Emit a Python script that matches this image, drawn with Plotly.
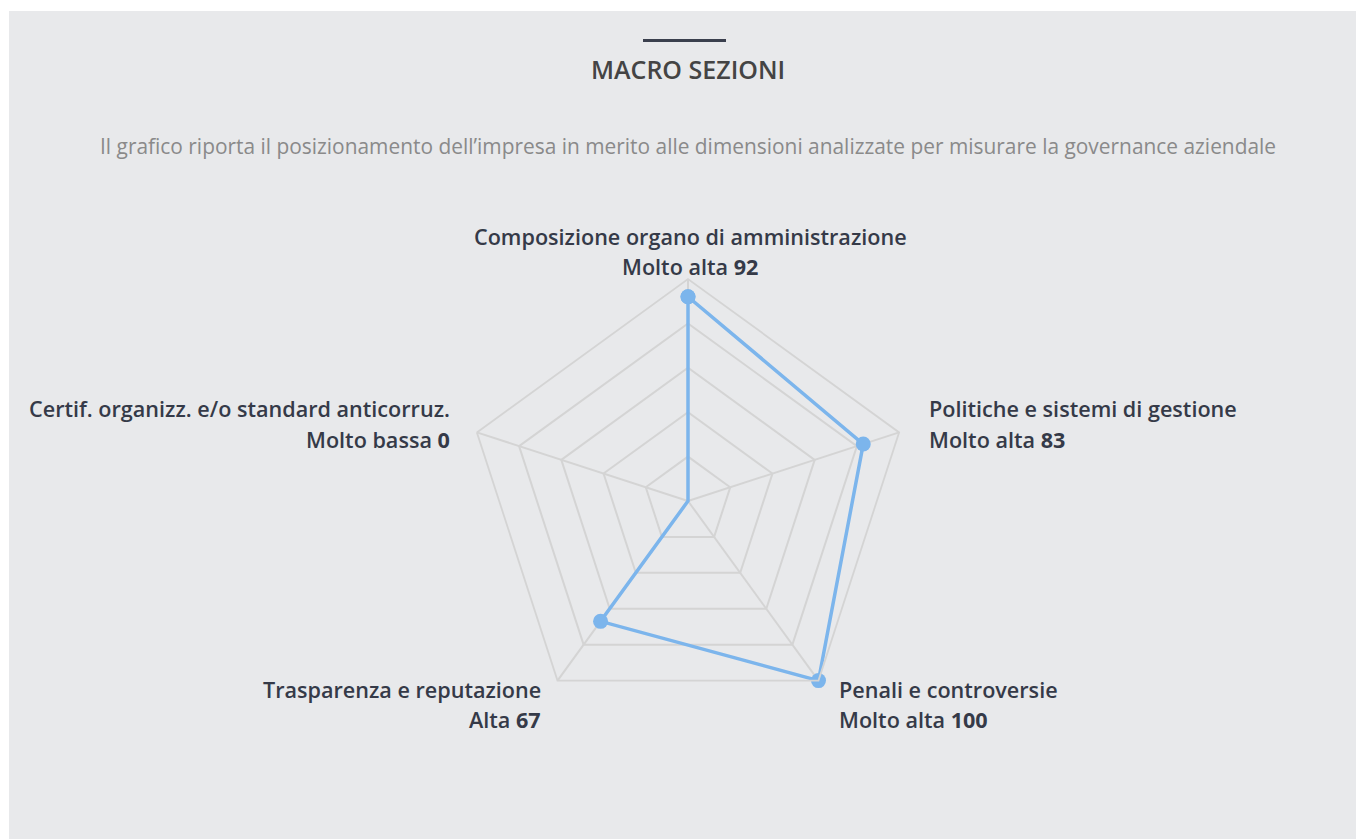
import plotly.graph_objects as go

categories = [
    "Composizione organo di amministrazione",
    "Politiche e sistemi di gestione",
    "Penali e controversie",
    "Trasparenza e reputazione",
    "Certif. organizz. e/o standard anticorruz.",
]
levels = ["Molto alta", "Molto alta", "Molto alta", "Alta", "Molto bassa"]
values = [92, 83, 100, 67, 0]
grid_ticks = [20, 40, 60, 80, 100]

W, H = 1356, 839
CX, CY, R = 688, 501, 222  # polar centre / radius in pixels

def px(x):
    return x / W

def py(y):
    return 1 - y / H

fig = go.Figure()
fig.add_trace(go.Scatterpolar(
    r=values + [values[0]],
    theta=categories + [categories[0]],
    mode="lines+markers",
    line=dict(color="#7cb5ec", width=3.5),
    marker=dict(color="#7cb5ec", size=15),
    hoverinfo="skip",
    showlegend=False,
))

grid_col = "#d4d4d4"
fig.update_layout(
    width=W, height=H,
    margin=dict(l=0, r=0, t=0, b=0),
    paper_bgcolor="white",
    plot_bgcolor="rgba(0,0,0,0)",
    polar=dict(
        domain=dict(x=[px(CX - R), px(CX + R)], y=[py(CY + R), py(CY - R)]),
        bgcolor="rgba(0,0,0,0)",
        gridshape="linear",
        radialaxis=dict(range=[0, 100], tickvals=grid_ticks, showticklabels=False,
                        showline=False, ticks="", gridcolor=grid_col, gridwidth=1.8),
        angularaxis=dict(rotation=90, direction="clockwise", showticklabels=False,
                         ticks="", gridcolor=grid_col, gridwidth=1.8,
                         linecolor=grid_col, linewidth=1.8),
    ),
    shapes=[
        dict(type="rect", xref="paper", yref="paper", x0=px(9), x1=px(W + 20),
             y0=py(H + 20), y1=py(11), fillcolor="#e8e9eb", line=dict(width=0), layer="below"),
        dict(type="line", xref="paper", yref="paper", x0=px(643), x1=px(726),
             y0=py(40.5), y1=py(40.5), line=dict(color="#3a3f4d", width=3)),
    ],
)

ann = []
ann.append(dict(text="MACRO SEZIONI", x=px(688), y=py(69), xanchor="center", yanchor="middle",
                font=dict(family="Open Sans", size=25, color="#444444", weight=600)))
ann.append(dict(text="Il grafico riporta il posizionamento dell\u2019impresa in merito alle dimensioni analizzate per misurare la governance aziendale",
                x=px(688), y=py(146), xanchor="center", yanchor="middle",
                font=dict(family="Open Sans", size=20.9, color="#8a8a8a")))

# label placement (pixel anchor of first line, alignment)
label_pos = [
    (690, 236, "center"),
    (927, 409, "left"),
    (837, 689, "left"),
    (543, 689, "right"),
    (452, 409, "right"),
]
lab_col = "#353a48"
for cat, lev, val, (lx, ly, al) in zip(categories, levels, values, label_pos):
    ann.append(dict(text=cat, x=px(lx), y=py(ly), xanchor=al, yanchor="middle",
                    font=dict(family="Open Sans", size=21.6, color=lab_col, weight=600)))
    ann.append(dict(text=f"{lev} <b>{val}</b>", x=px(lx), y=py(ly + 30), xanchor=al, yanchor="middle",
                    font=dict(family="Open Sans", size=21.6, color=lab_col, weight=600)))

for a in ann:
    a.update(xref="paper", yref="paper", showarrow=False)
fig.update_layout(annotations=ann)

fig.write_html("out.html")
